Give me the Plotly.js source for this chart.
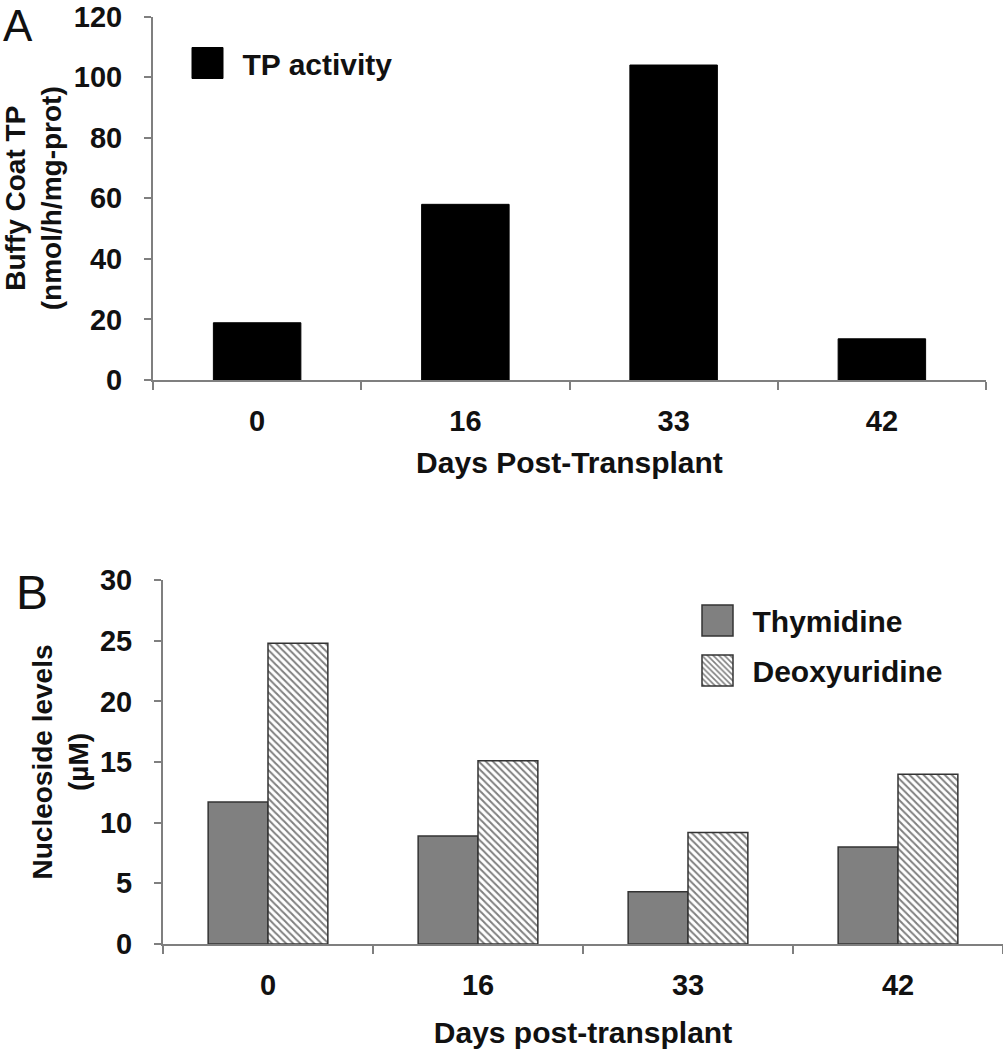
<!DOCTYPE html>
<html>
<head>
<meta charset="utf-8">
<script src="https://cdn.plot.ly/plotly-3.0.1.min.js"></script>
<style>html,body{margin:0;padding:0;background:#fff;}</style>
</head>
<body>
<div id="chart" style="width:1003px;height:1050px;"></div>
<script>
// ---- data ----
const days = ["0", "16", "33", "42"];
const tpActivity = [18.9, 58, 104, 13.6];
const thymidine = [11.7, 8.9, 4.3, 8.0];
const deoxyuridine = [24.8, 15.1, 9.2, 14.0];
const yTicksA = [0, 20, 40, 60, 80, 100, 120];
const yTicksB = [0, 5, 10, 15, 20, 25, 30];

const W = 1003, H = 1050;
const FONT = "Liberation Sans, Arial, Helvetica, sans-serif";
const AX = "#7f7f7f";
const px = v => v / W;
const py = v => 1 - v / H;

const traces = [
  {
    type: "bar", name: "TP activity", x: days, y: tpActivity,
    xaxis: "x", yaxis: "y", width: 0.42,
    marker: {color: "#000000", line: {color: "#000000", width: 1}},
    legend: "legend", showlegend: true
  },
  {
    type: "bar", name: "Thymidine", x: days, y: thymidine,
    xaxis: "x2", yaxis: "y2", legend: "legend2", legendgroup: "t",
    marker: {color: "#808080", line: {color: "#333333", width: 1.5}}
  },
  {
    type: "bar", name: "Deoxyuridine", x: days, y: deoxyuridine,
    xaxis: "x2", yaxis: "y2", legend: "legend2", legendgroup: "d",
    marker: {
      color: "#ffffff",
      line: {color: "#333333", width: 1.5},
      pattern: {shape: "\\", fgcolor: "#808080", bgcolor: "#ffffff", size: 5, solidity: 0.4}
    }
  }
];

const tickFont = {family: FONT, size: 29, color: "#111", weight: "bold"};
const titleFont = {family: FONT, size: 30, color: "#111", weight: "bold"};

function xAxis(dom, anchor, title, standoff) {
  return {
    domain: dom, anchor: anchor, type: "category",
    showline: true, linecolor: AX, linewidth: 2,
    ticks: "outside", tickson: "boundaries", ticklen: 8, tickwidth: 2, tickcolor: AX,
    tickfont: tickFont, showgrid: false, zeroline: false,
    ticklabelstandoff: 14,
    title: {text: title, font: titleFont, standoff: standoff}
  };
}
function yAxis(dom, anchor, range, vals, title, standoff) {
  return {
    domain: dom, anchor: anchor, range: range,
    tickvals: vals, ticktext: vals.map(String),
    showline: true, linecolor: AX, linewidth: 2,
    ticks: "outside", ticklen: 7, tickwidth: 2, tickcolor: AX,
    tickfont: tickFont, showgrid: false, zeroline: false,
    ticklabelstandoff: 16, ticklabeloverflow: "allow",
    title: {text: title, font: {family: FONT, size: 28, color: "#111", weight: "bold"}, standoff: standoff}
  };
}

const layout = {
  width: W, height: H,
  margin: {l: 0, r: 0, t: 0, b: 0},
  paper_bgcolor: "#ffffff", plot_bgcolor: "rgba(0,0,0,0)",
  font: {family: FONT, color: "#111"},
  bargap: 0.43, bargroupgap: 0, barmode: "group",
  xaxis: xAxis([px(153), px(986)], "y", "Days Post-Transplant", 16),
  yaxis: yAxis([py(380), py(16.5)], "x", [0, 120.02], yTicksA, "Buffy Coat TP<br>(nmol/h/mg-prot)", 11),
  xaxis2: xAxis([px(163), 1], "y2", "Days post-transplant", 22),
  yaxis2: yAxis([py(944), py(580)], "x2", [0, 30.005], yTicksB, "Nucleoside levels<br>(µM)", 3),
  legend: {
    x: px(182.5), y: py(37), xanchor: "left", yanchor: "top",
    bgcolor: "rgba(0,0,0,0)", borderwidth: 0, itemwidth: 50,
    font: {family: FONT, size: 30, color: "#111", weight: "bold"}
  },
  legend2: {
    x: px(692.5), y: py(594.5), xanchor: "left", yanchor: "top",
    bgcolor: "rgba(0,0,0,0)", borderwidth: 0, itemwidth: 50, tracegroupgap: 8,
    font: {family: FONT, size: 30, color: "#111", weight: "bold"}
  },
  annotations: [
    {text: "A", xref: "paper", yref: "paper", x: px(18), y: py(25), xanchor: "center", yanchor: "middle",
     showarrow: false, font: {family: FONT, size: 44, color: "#111"}},
    {text: "B", xref: "paper", yref: "paper", x: px(32), y: py(592), xanchor: "center", yanchor: "middle",
     showarrow: false, font: {family: FONT, size: 48, color: "#111"}}
  ]
};

Plotly.newPlot("chart", traces, layout, {staticPlot: true}).then(function (gd) {
  // enlarge legend keys (both legends) to match the reference's big square swatches
  gd.querySelectorAll(".legendpoints path").forEach(function (p) {
    p.setAttribute("d", "M10.5,15.5H-20.5V-15.5H10.5Z");
  });
});
</script>
</body>
</html>
